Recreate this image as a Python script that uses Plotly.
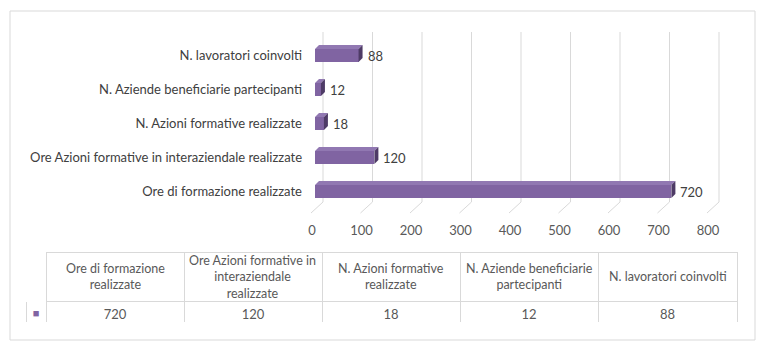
import plotly.graph_objects as go

# ---- data ----
categories = [
    "Ore di formazione realizzate",
    "Ore Azioni formative in interaziendale realizzate",
    "N. Azioni formative realizzate",
    "N. Aziende beneficiarie partecipanti",
    "N. lavoratori coinvolti",
]
values = [720, 120, 18, 12, 88]
x_ticks = [0, 100, 200, 300, 400, 500, 600, 700, 800]
table_headers = [
    "Ore di formazione<br>realizzate",
    "Ore Azioni formative in<br>interaziendale<br>realizzate",
    "N. Azioni formative<br>realizzate",
    "N. Aziende beneficiarie<br>partecipanti",
    "N. lavoratori coinvolti",
]

# ---- style / geometry ----
OFF = 8                      # page body margin
W, H = 768 - 2 * OFF, 355 - 2 * OFF
FONT = "Lato, sans-serif"
FRONT = "#8064A2"
TOP = "#9178B2"
SIDE = "#4E3B66"
GRID = "#D9D9D9"
TXT = "#595959"


def px(v):
    return v - OFF


px_x0, px_x1 = px(303), px(720)
px_y0, px_y1 = px(30), px(215)
ux = 2.0202          # data units per px (x)
uy = 1 / 34.0        # data units per px (y)
xr = [-(315 - 303) * ux, 800 + (720 - 711) * ux]
yr = [-(215 - 191.5) * uy, 4 + (55.5 - 30) * uy]

bw = 0.38
dx, dy = 4 * ux, 4 * uy

ypos = list(range(len(categories)))

fig = go.Figure()

# gridlines (3D back wall + floor diagonal)
for v in x_ticks:
    fig.add_shape(type="line", xref="x", yref="y",
                  x0=v + 8 * ux, x1=v + 8 * ux, y0=-10.5 * uy, y1=4 + 23.5 * uy,
                  line=dict(color=GRID, width=1), layer="below")
    fig.add_shape(type="line", xref="x", yref="y",
                  x0=v + 8 * ux, x1=v - 4 * ux, y0=-10.5 * uy, y1=-21.5 * uy,
                  line=dict(color=GRID, width=1), layer="below")

# front faces
fig.add_trace(go.Bar(
    x=values, y=ypos, orientation="h", width=bw,
    marker=dict(color=FRONT, line=dict(width=0)),
    hoverinfo="skip", showlegend=False,
))

# top and side faces + value labels
for v, y in zip(values, ypos):
    t = y + bw / 2
    b = y - bw / 2
    fig.add_trace(go.Scatter(
        x=[0, v, v + dx, dx, 0], y=[t, t, t + dy, t + dy, t],
        fill="toself", fillcolor=TOP, mode="lines", line=dict(width=0),
        hoverinfo="skip", showlegend=False))
    fig.add_trace(go.Scatter(
        x=[v, v + dx, v + dx, v, v], y=[b, b + dy, t + dy, t, b],
        fill="toself", fillcolor=SIDE, mode="lines", line=dict(width=0),
        hoverinfo="skip", showlegend=False))
    fig.add_annotation(x=v + dx, y=y, xref="x", yref="y", text=str(v),
                       showarrow=False, xanchor="left", xshift=3,
                       font=dict(family=FONT, size=13, color="#404040"))

# data table
col_w = [20, 138, 138, 138, 138, 139]
fig.add_trace(go.Table(
    domain=dict(x=[px(26) / W, px(737) / W], y=[1 - px(323) / H, 1 - px(252) / H]),
    columnwidth=col_w,
    header=dict(values=[""] * 6, height=49, fill_color="white",
                line=dict(color=["white"] + [GRID] * 5, width=1)),
    cells=dict(values=[["■"]] + [[v] for v in values], height=22,
               align="center", fill_color="white",
               line=dict(color=GRID, width=1),
               font=dict(family=FONT, size=[11] + [13] * 5,
                         color=[FRONT] + [TXT] * 5)),
))

# header text (vertically centered)
cum = 26 + col_w[0]
for i, htxt in enumerate(table_headers):
    w = col_w[i + 1]
    fig.add_annotation(x=px(cum + w / 2) / W, y=1 - px(276.5) / H,
                       xref="paper", yref="paper",
                       text=htxt, showarrow=False, xanchor="center", yanchor="middle",
                       align="center",
                       font=dict(family=FONT, size=12.5, color=TXT))
    cum += w

# outer chart border
fig.add_shape(type="rect", xref="paper", yref="paper",
              x0=px(10) / W, x1=px(755) / W, y0=1 - px(340) / H, y1=1 - px(11) / H,
              line=dict(color=GRID, width=1), fillcolor="rgba(0,0,0,0)")

fig.update_layout(
    width=W, height=H,
    margin=dict(l=0, r=0, t=0, b=0),
    paper_bgcolor="white", plot_bgcolor="white",
    bargap=0,
    xaxis=dict(domain=[px_x0 / W, px_x1 / W], range=xr, tickvals=x_ticks,
               showgrid=False, zeroline=False, showline=False, ticks="",
               ticklabelshift=-3, ticklabelstandoff=6,
               tickfont=dict(family=FONT, size=13, color=TXT), fixedrange=True),
    yaxis=dict(domain=[1 - px_y1 / H, 1 - px_y0 / H], range=yr,
               tickvals=ypos, ticktext=categories,
               showgrid=False, zeroline=False, showline=False, ticks="",
               tickfont=dict(family=FONT, size=13, color="#404040"), fixedrange=True),
    showlegend=False,
)

fig.write_html("out.html")
